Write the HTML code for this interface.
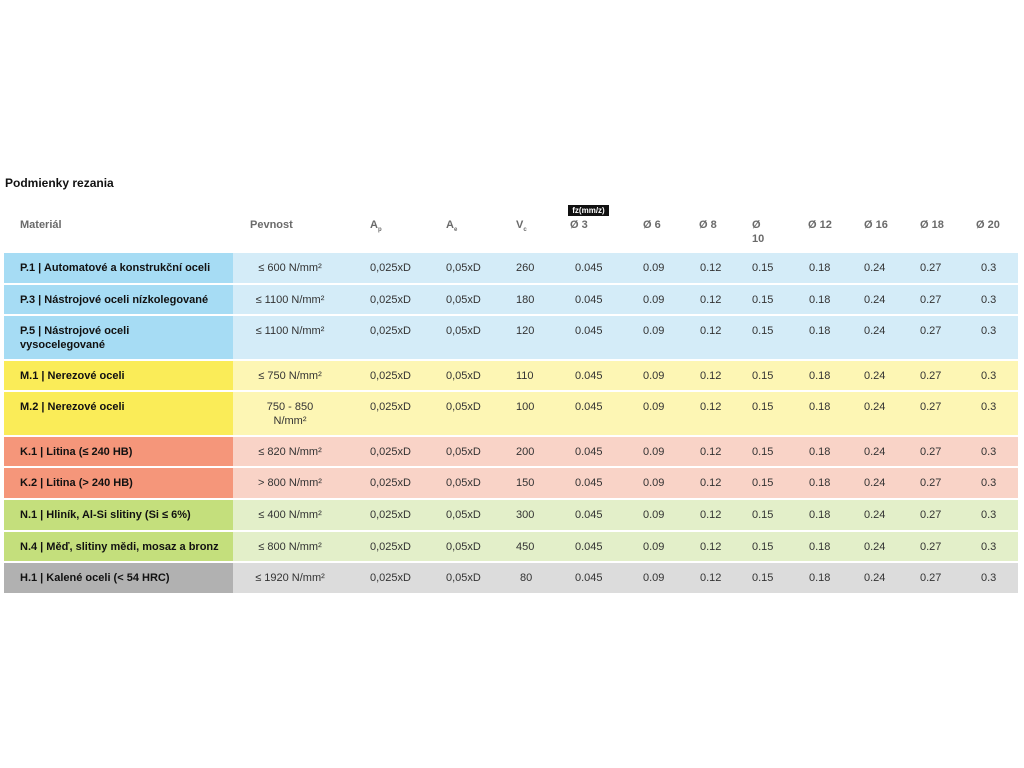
<!DOCTYPE html>
<html><head><meta charset="utf-8"><style>
body{margin:0;width:1024px;height:768px;background:#fff;font-family:"Liberation Sans",sans-serif;position:relative;overflow:hidden}
.t{position:absolute;left:5px;top:176px;font-size:12px;font-weight:bold;color:#111}
.h{position:absolute;top:218px;font-size:11px;font-weight:bold;color:#6a6a6a;line-height:14px}
.h sub{font-size:6px}
.fz{position:absolute;left:568px;top:205px;width:41px;height:11px;background:#111;color:#fff;font-size:8px;font-weight:bold;line-height:11px;text-align:center}
.r{position:absolute;left:4px;width:1014px;font-size:11px;color:#333;line-height:14px}
.r .a{position:absolute;left:0;top:0;bottom:0;width:229px;color:#111;font-weight:bold;padding:8px 0 0 16px;box-sizing:border-box}
.r .b{position:absolute;left:229px;right:0;top:0;bottom:0}
.r span{position:absolute;top:8px}
.p{left:229px;width:114px;text-align:center}
</style></head><body>
<div class="t">Podmienky rezania</div>
<div class="h" style="left:20px">Materiál</div>
<div class="h" style="left:250px">Pevnost</div>
<div class="h" style="left:370px">A<sub>p</sub></div>
<div class="h" style="left:446px">A<sub>e</sub></div>
<div class="h" style="left:516px">V<sub>c</sub></div>
<div class="fz">fz(mm/z)</div>
<div class="h" style="left:570px">Ø 3</div>
<div class="h" style="left:643px">Ø 6</div>
<div class="h" style="left:699px">Ø 8</div>
<div class="h" style="left:752px">Ø<br>10</div>
<div class="h" style="left:808px">Ø 12</div>
<div class="h" style="left:864px">Ø 16</div>
<div class="h" style="left:920px">Ø 18</div>
<div class="h" style="left:976px">Ø 20</div>

<div class="r" style="top:253px;height:30px"><div class="a" style="background:#a6dcf4">P.1 | Automatové a konstrukční oceli</div><div class="b" style="background:#d4ecf8"></div><span class="p">≤ 600 N/mm²</span><span style="left:366px">0,025xD</span><span style="left:442px">0,05xD</span><span style="left:512px">260</span><span style="left:571px">0.045</span><span style="left:639px">0.09</span><span style="left:696px">0.12</span><span style="left:748px">0.15</span><span style="left:805px">0.18</span><span style="left:860px">0.24</span><span style="left:916px">0.27</span><span style="left:977px">0.3</span></div>
<div class="r" style="top:285px;height:29px"><div class="a" style="background:#a6dcf4">P.3 | Nástrojové oceli nízkolegované</div><div class="b" style="background:#d4ecf8"></div><span class="p">≤ 1100 N/mm²</span><span style="left:366px">0,025xD</span><span style="left:442px">0,05xD</span><span style="left:512px">180</span><span style="left:571px">0.045</span><span style="left:639px">0.09</span><span style="left:696px">0.12</span><span style="left:748px">0.15</span><span style="left:805px">0.18</span><span style="left:860px">0.24</span><span style="left:916px">0.27</span><span style="left:977px">0.3</span></div>
<div class="r" style="top:316px;height:43px"><div class="a" style="background:#a6dcf4">P.5 | Nástrojové oceli<br>vysocelegované</div><div class="b" style="background:#d4ecf8"></div><span class="p">≤ 1100 N/mm²</span><span style="left:366px">0,025xD</span><span style="left:442px">0,05xD</span><span style="left:512px">120</span><span style="left:571px">0.045</span><span style="left:639px">0.09</span><span style="left:696px">0.12</span><span style="left:748px">0.15</span><span style="left:805px">0.18</span><span style="left:860px">0.24</span><span style="left:916px">0.27</span><span style="left:977px">0.3</span></div>
<div class="r" style="top:361px;height:29px"><div class="a" style="background:#faec58">M.1 | Nerezové oceli</div><div class="b" style="background:#fdf6b4"></div><span class="p">≤ 750 N/mm²</span><span style="left:366px">0,025xD</span><span style="left:442px">0,05xD</span><span style="left:512px">110</span><span style="left:571px">0.045</span><span style="left:639px">0.09</span><span style="left:696px">0.12</span><span style="left:748px">0.15</span><span style="left:805px">0.18</span><span style="left:860px">0.24</span><span style="left:916px">0.27</span><span style="left:977px">0.3</span></div>
<div class="r" style="top:392px;height:43px"><div class="a" style="background:#faec58">M.2 | Nerezové oceli</div><div class="b" style="background:#fdf6b4"></div><span class="p">750 - 850<br>N/mm²</span><span style="left:366px">0,025xD</span><span style="left:442px">0,05xD</span><span style="left:512px">100</span><span style="left:571px">0.045</span><span style="left:639px">0.09</span><span style="left:696px">0.12</span><span style="left:748px">0.15</span><span style="left:805px">0.18</span><span style="left:860px">0.24</span><span style="left:916px">0.27</span><span style="left:977px">0.3</span></div>
<div class="r" style="top:437px;height:29px"><div class="a" style="background:#f5967a">K.1 | Litina (≤ 240 HB)</div><div class="b" style="background:#f9d3c7"></div><span class="p">≤ 820 N/mm²</span><span style="left:366px">0,025xD</span><span style="left:442px">0,05xD</span><span style="left:512px">200</span><span style="left:571px">0.045</span><span style="left:639px">0.09</span><span style="left:696px">0.12</span><span style="left:748px">0.15</span><span style="left:805px">0.18</span><span style="left:860px">0.24</span><span style="left:916px">0.27</span><span style="left:977px">0.3</span></div>
<div class="r" style="top:468px;height:30px"><div class="a" style="background:#f5967a">K.2 | Litina (&gt; 240 HB)</div><div class="b" style="background:#f9d3c7"></div><span class="p">&gt; 800 N/mm²</span><span style="left:366px">0,025xD</span><span style="left:442px">0,05xD</span><span style="left:512px">150</span><span style="left:571px">0.045</span><span style="left:639px">0.09</span><span style="left:696px">0.12</span><span style="left:748px">0.15</span><span style="left:805px">0.18</span><span style="left:860px">0.24</span><span style="left:916px">0.27</span><span style="left:977px">0.3</span></div>
<div class="r" style="top:500px;height:30px"><div class="a" style="background:#c4df7c">N.1 | Hliník, Al-Si slitiny (Si ≤ 6%)</div><div class="b" style="background:#e3efc9"></div><span class="p">≤ 400 N/mm²</span><span style="left:366px">0,025xD</span><span style="left:442px">0,05xD</span><span style="left:512px">300</span><span style="left:571px">0.045</span><span style="left:639px">0.09</span><span style="left:696px">0.12</span><span style="left:748px">0.15</span><span style="left:805px">0.18</span><span style="left:860px">0.24</span><span style="left:916px">0.27</span><span style="left:977px">0.3</span></div>
<div class="r" style="top:532px;height:29px"><div class="a" style="background:#c4df7c">N.4 | Měď, slitiny mědi, mosaz a bronz</div><div class="b" style="background:#e3efc9"></div><span class="p">≤ 800 N/mm²</span><span style="left:366px">0,025xD</span><span style="left:442px">0,05xD</span><span style="left:512px">450</span><span style="left:571px">0.045</span><span style="left:639px">0.09</span><span style="left:696px">0.12</span><span style="left:748px">0.15</span><span style="left:805px">0.18</span><span style="left:860px">0.24</span><span style="left:916px">0.27</span><span style="left:977px">0.3</span></div>
<div class="r" style="top:563px;height:30px"><div class="a" style="background:#b1b1b1">H.1 | Kalené oceli (&lt; 54 HRC)</div><div class="b" style="background:#dcdcdc"></div><span class="p">≤ 1920 N/mm²</span><span style="left:366px">0,025xD</span><span style="left:442px">0,05xD</span><span style="left:516px">80</span><span style="left:571px">0.045</span><span style="left:639px">0.09</span><span style="left:696px">0.12</span><span style="left:748px">0.15</span><span style="left:805px">0.18</span><span style="left:860px">0.24</span><span style="left:916px">0.27</span><span style="left:977px">0.3</span></div>
</body></html>
